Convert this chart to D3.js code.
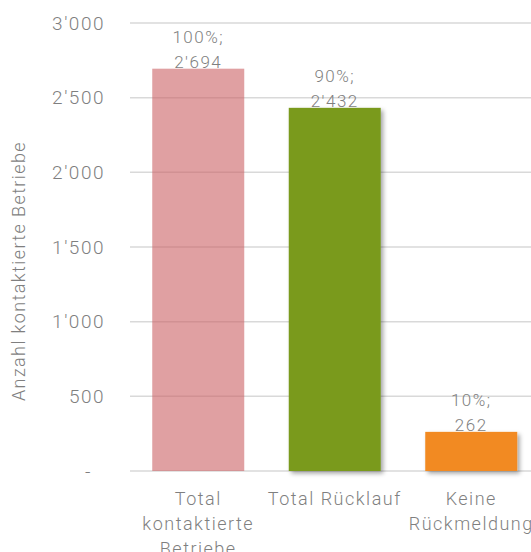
<!DOCTYPE html>
<meta charset="utf-8">
<style>
body { margin: 0; background: #fff; }
text { font-family: Roboto, "Open Sans", sans-serif; font-weight: 300; fill: #7f7f7f; }
</style>
<script src="https://d3js.org/d3.v7.min.js"></script>
<div id="chart"></div>
<script>
// data
var categories = [["Total", "kontaktierte", "Betriebe"], ["Total Rücklauf"], ["Keine", "Rückmeldung"]];
var counts = [2694, 2432, 262];
var shares = ["100%;", "90%;", "10%;"];
var countLabels = ["2'694", "2'432", "262"];
var barColors = ["rgb(203,97,100)", "#7a9a1f", "#f28a22"];
var yTicks = [0, 500, 1000, 1500, 2000, 2500, 3000];

var width = 531, height = 552;

var svg = d3.select("#chart").append("svg")
    .attr("width", width)
    .attr("height", height);

var defs = svg.append("defs");
var f = defs.append("filter").attr("id", "shadow")
    .attr("x", "-10%").attr("y", "-10%").attr("width", "130%").attr("height", "130%");
f.append("feDropShadow")
    .attr("dx", 2.5).attr("dy", 2.5).attr("stdDeviation", 2)
    .attr("flood-color", "#000").attr("flood-opacity", 0.35);

var x = d3.scaleBand()
    .domain(d3.range(counts.length))
    .range([130, 539.5])
    .paddingInner(0.326)
    .paddingOuter(0.163);

var y = d3.scaleLinear()
    .domain([0, 3000])
    .range([471, 23]);

// gridlines
svg.append("g")
  .selectAll("line")
  .data(yTicks)
  .enter().append("line")
    .attr("x1", 130)
    .attr("x2", width)
    .attr("y1", function(d) { return y(d); })
    .attr("y2", function(d) { return y(d); })
    .attr("stroke", "#d9d9d9")
    .attr("stroke-width", 1.5);

// y tick labels
svg.append("g")
  .selectAll("text")
  .data(yTicks)
  .enter().append("text")
    .attr("x", function(d) { return d === 0 ? 92 : 105; })
    .attr("y", function(d) { return y(d); })
    .attr("dy", "0.35em")
    .attr("text-anchor", "end")
    .style("font-size", "19px")
    .style("letter-spacing", "1.5px")
    .text(function(d) { return d === 0 ? "-" : d3.format(",")(d).replace(/,/g, "'"); });

// y axis title
svg.append("text")
    .attr("transform", "translate(25," + 271 + ") rotate(-90)")
    .attr("text-anchor", "middle")
    .style("font-size", "18px")
    .style("letter-spacing", "1.4px")
    .text("Anzahl kontaktierte Betriebe");

// bars
svg.append("g")
  .selectAll("rect")
  .data(counts)
  .enter().append("rect")
    .attr("x", function(d, i) { return x(i); })
    .attr("y", function(d) { return y(d); })
    .attr("width", x.bandwidth())
    .attr("height", function(d) { return y(0) - y(d); })
    .attr("fill", function(d, i) { return barColors[i]; })
    .attr("fill-opacity", function(d, i) { return i === 0 ? 0.6 : 1; })
    .attr("filter", function(d, i) { return i === 0 ? null : "url(#shadow)"; });

// value labels
var lab = svg.append("g")
  .selectAll("text")
  .data(counts)
  .enter().append("text")
    .attr("text-anchor", "middle")
    .style("font-size", "17px")
    .style("letter-spacing", "1.5px")
    .attr("x", function(d, i) { return x(i) + x.bandwidth() / 2; })
    .attr("y", function(d) { return y(d) - 1; });
lab.append("tspan")
    .attr("x", function(d, i) { return x(i) + x.bandwidth() / 2; })
    .attr("dy", -25)
    .text(function(d, i) { return shares[i]; });
lab.append("tspan")
    .attr("x", function(d, i) { return x(i) + x.bandwidth() / 2; })
    .attr("dy", 25)
    .text(function(d, i) { return countLabels[i]; });

// category labels
var cat = svg.append("g")
  .selectAll("text")
  .data(categories)
  .enter().append("text")
    .attr("text-anchor", "middle")
    .style("font-size", "18px")
    .style("letter-spacing", "1.5px")
    .attr("y", 505);
cat.selectAll("tspan")
  .data(function(d, i) { return d.map(function(t) { return {t: t, i: i}; }); })
  .enter().append("tspan")
    .attr("x", function(d) { return x(d.i) + x.bandwidth() / 2; })
    .attr("dy", function(d, j) { return j === 0 ? 0 : 25; })
    .text(function(d) { return d.t; });
</script>
